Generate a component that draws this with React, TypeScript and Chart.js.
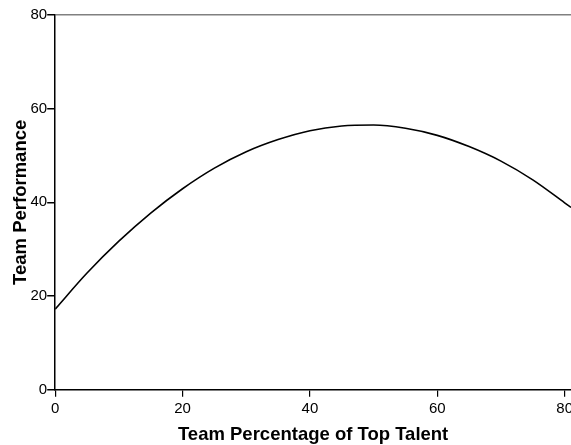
import React, { useEffect, useRef } from "react";
import { Chart, registerables } from "chart.js";

Chart.register(...registerables);

const xValues = [0, 5, 10, 15, 20, 25, 30, 35, 40, 45, 50, 55, 60, 65, 70, 75, 80, 81];
const performance = [17.2, 24.9, 31.7, 37.7, 42.9, 47.3, 50.8, 53.4, 55.3, 56.3, 56.5, 55.8, 54.3, 51.9, 48.8, 44.8, 39.9, 38.9];
const xTickValues = [0, 20, 40, 60, 80];
const yTickValues = [0, 20, 40, 60, 80];
const xTitle = "Team Percentage of Top Talent";
const yTitle = "Team Performance";

const FONT = "Liberation Sans, Arial, sans-serif";

export default function App() {
  const ref = useRef<HTMLCanvasElement | null>(null);
  useEffect(() => {
    document.body.style.margin = "0";
    const ctx = ref.current!;
    const chart = new Chart(ctx, {
      type: "line",
      data: {
        datasets: [
          {
            data: xValues.map((x, i) => ({ x, y: performance[i] })),
            borderColor: "#000",
            borderWidth: 1.6,
            pointRadius: 0,
            cubicInterpolationMode: "monotone",
            fill: false,
          },
        ],
      },
      options: {
        animation: false,
        responsive: false,
        maintainAspectRatio: false,
        layout: { padding: { top: 15, right: 0, left: 12, bottom: 0 } },
        plugins: { legend: { display: false }, tooltip: { enabled: false } },
        scales: {
          x: {
            type: "linear",
            min: 0,
            max: 81,
            afterBuildTicks: (axis: any) => {
              axis.ticks = xTickValues.map((v) => ({ value: v }));
            },
            afterFit: (s: any) => {
              s.paddingLeft = 0;
              s.paddingRight = 0;
            },
            border: { display: true, color: "#000", width: 1.5 },
            grid: { drawOnChartArea: false, tickLength: 7, color: "#000", tickColor: "#000", lineWidth: 1.2 },
            ticks: {
              color: "#000",
              font: { family: FONT, size: 15 },
              padding: 3,
              maxRotation: 0,
            },
            title: {
              display: true,
              text: xTitle,
              color: "#000",
              font: { family: FONT, size: 18.5, weight: "bold", lineHeight: 1.1 },
              padding: { top: 4, bottom: 0 },
            },
          },
          y: {
            type: "linear",
            min: 0,
            max: 80,
            afterBuildTicks: (axis: any) => {
              axis.ticks = yTickValues.map((v) => ({ value: v }));
            },
            afterFit: (s: any) => {
              s.paddingTop = 0;
              s.paddingBottom = 0;
            },
            border: { display: true, color: "#000", width: 1.5 },
            grid: {
              drawOnChartArea: true,
              tickLength: 8,
              color: (c: any) => (c.tick && c.tick.value === 80 ? "#808080" : "rgba(0,0,0,0)"),
              tickColor: "#000",
              lineWidth: 1.5,
            },
            ticks: {
              color: "#000",
              font: { family: FONT, size: 15 },
              padding: 0,
            },
            title: {
              display: true,
              text: yTitle,
              color: "#000",
              font: { family: FONT, size: 18.5, weight: "bold", lineHeight: 1 },
              padding: { top: 0, bottom: 0 },
            },
          },
        },
      },
    });
    return () => chart.destroy();
  }, []);
  return (
    <div style={{ position: "absolute", left: 0, top: 0, width: 571, height: 445, overflow: "hidden" }}>
      <canvas ref={ref} width={571} height={445} style={{ width: 571, height: 445 }} />
    </div>
  );
}
